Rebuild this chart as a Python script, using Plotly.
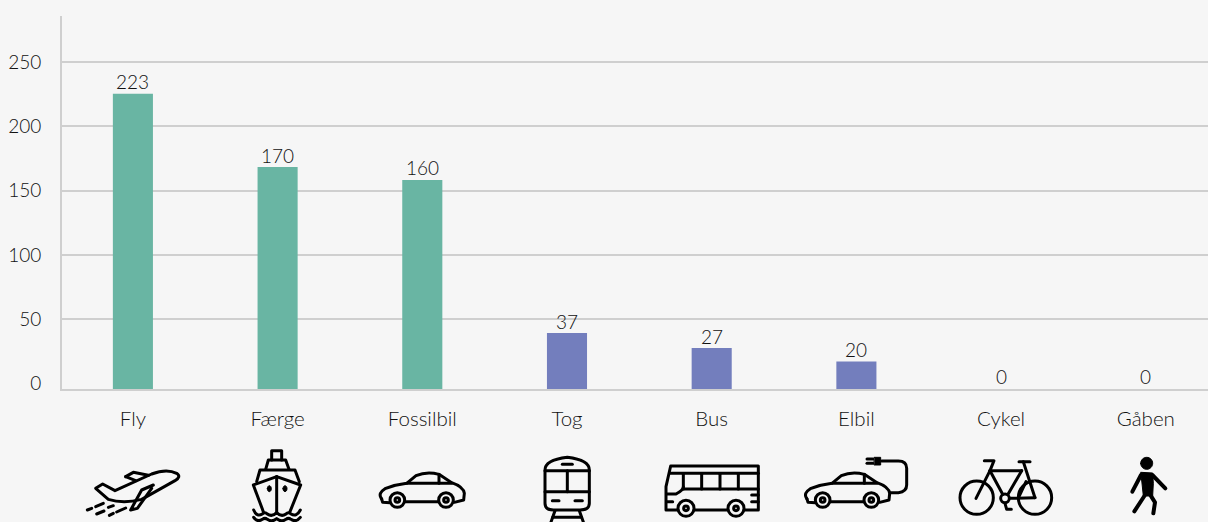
import plotly.graph_objects as go

categories = ["Fly", "Færge", "Fossilbil", "Tog", "Bus", "Elbil", "Cykel", "Gåben"]
bar_tops = [225.5, 168.5, 158.4, 39.4, 27.7, 17.2, 0, 0]
printed_labels = ["223", "170", "160", "37", "27", "20", "0", "0"]
bar_colors = ["#69B5A3", "#69B5A3", "#69B5A3", "#737EBD", "#737EBD", "#737EBD", "#737EBD", "#737EBD"]
y_ticks = [0, 50, 100, 150, 200, 250]

BG = "#F6F6F6"
GRID = "#CFCFCF"
TXT = "#111111"
FONT = "Lato"
Y_MIN, Y_MAX = -4.1, 285.9
ML, MR, MT, MB = 62, 0, 16, 133
W, H = 1208, 522


def px(path, x0, y0=440):
    """Zoom-crop icon coordinates (3x) to paper coordinates."""
    out = []
    tokens = path.replace(",", " ").split()
    is_x = True
    for t in tokens:
        if t.isalpha():
            out.append(t)
            is_x = True
        else:
            v = float(t)
            if is_x:
                out.append(f"{(x0 + v / 3 - ML) / (W - ML - MR):.5f}")
            else:
                out.append(f"{((H - MB) - (y0 + v / 3)) / (H - MT - MB):.5f}")
            is_x = not is_x
    return " ".join(out)


def circ(cx, cy, rx, ry=None):
    ry = rx if ry is None else ry
    k = 0.5523
    return (f"M {cx-rx} {cy} C {cx-rx} {cy-k*ry} {cx-k*rx} {cy-ry} {cx} {cy-ry} "
            f"C {cx+k*rx} {cy-ry} {cx+rx} {cy-k*ry} {cx+rx} {cy} "
            f"C {cx+rx} {cy+k*ry} {cx+k*rx} {cy+ry} {cx} {cy+ry} "
            f"C {cx-k*rx} {cy+ry} {cx-rx} {cy+k*ry} {cx-rx} {cy} Z")


def car(dx):
    return [
        f"M {965+dx} 177 Q {952+dx} 160 {975+dx} 146 Q {1005+dx} 134 {1040+dx} 130 L {1068+dx} 107 "
        f"Q {1100+dx} 93 {1137+dx} 103 L {1175+dx} 128 Q {1210+dx} 140 {1213+dx} 160 L {1211+dx} 180 L {1183+dx} 187",
        f"M {965+dx} 177 L {968+dx} 187 L {990+dx} 188",
        f"M {1036+dx} 185 L {1135+dx} 185",
        f"M {1040+dx} 130 L {1175+dx} 130",
        f"M {1137+dx} 103 L {1137+dx} 130",
        circ(1012 + dx, 180, 22),
        circ(1158 + dx, 180, 22),
        circ(1012 + dx, 180, 7),
        circ(1158 + dx, 180, 7),
    ]


plane = [
    "M 107 145 L 128 132 L 165 152 L 275 102 Q 320 85 350 100 Q 365 110 345 122 L 245 178 Q 190 192 145 178 Z",
    "M 197 110 L 220 97 L 265 106",
    "M 197 110 L 227 122",
    "M 280 135 L 245 150 L 212 210 L 232 205 L 275 145",
    "M 82 210 L 95 205", "M 107 200 L 130 190", "M 110 222 L 132 213", "M 145 202 L 160 197",
    "M 148 226 L 160 220", "M 170 216 L 197 204",
]
ship = [
    "M 635 60 L 635 32 L 665 32 L 665 60",
    "M 617 88 L 625 60 L 677 60 L 687 88",
    "M 590 125 L 600 90 L 705 90 L 718 125",
    "M 650 110 L 580 135 L 610 215", "M 650 110 L 722 135 L 690 215", "M 650 110 L 650 215",
    "M 581 210 Q 590 232 607 222 Q 615 214 622 222 Q 636 232 650 218 Q 664 232 678 222 Q 685 214 693 222 Q 710 232 721 210",
    "M 581 232 Q 592 248 607 238 Q 615 232 622 238 Q 636 248 650 236 Q 664 248 678 238 Q 685 232 693 238 Q 708 248 721 232",
]
ship_fill = [circ(628, 146, 6, 9), circ(675, 146, 6, 9)]
car1 = car(0)
train = [
    "M 75 90 Q 75 60 142 52 Q 208 60 208 90 L 208 190 Q 208 210 180 210 L 100 210 Q 75 210 75 190 Z",
    "M 75 92 L 208 92", "M 75 155 L 208 155", "M 142 92 L 142 155",
    "M 127 73 L 157 73", "M 97 182 L 117 182", "M 165 182 L 187 182",
    "M 105 212 L 93 246", "M 178 212 L 190 246", "M 98 232 L 184 232",
]
bus = [
    "M 473 210 L 438 210 L 438 140 L 452 78 L 715 78 L 715 210 L 675 210",
    "M 525 210 L 620 210", "M 450 100 L 715 100",
    "M 490 103 L 490 147", "M 545 103 L 545 147", "M 600 103 L 600 147", "M 655 103 L 655 147",
    "M 490 147 L 715 147", "M 440 162 L 468 162 Q 490 150 490 140",
    "M 695 165 L 715 165", "M 695 185 L 715 185", "M 440 185 L 458 185",
    circ(498, 205, 24), circ(648, 205, 24), circ(498, 205, 7), circ(648, 205, 7),
]
ecar = car(-104) + [
    "M 1110 158 L 1135 158 Q 1160 155 1160 135 L 1160 85 Q 1160 63 1135 63 L 1085 63",
    "M 1041 57 L 1058 57", "M 1041 70 L 1058 70",
]
ecar_fill = ["M 1063 52 L 1082 52 L 1082 75 L 1063 75 Z"]
bike = [
    circ(110, 173, 50), circ(285, 173, 50), circ(195, 175, 13),
    "M 133 62 L 162 62 L 150 92", "M 150 92 L 108 175", "M 150 92 L 245 92", "M 150 92 L 188 163",
    "M 245 92 L 204 163", "M 237 65 L 270 65", "M 250 65 L 285 173",
    "M 212 175 L 285 173", "M 258 125 L 236 172", "M 195 190 L 200 208 L 214 208",
]
walker = [
    "M 603 105 L 577 155", "M 637 105 L 676 145",
    "M 615 165 L 583 214", "M 628 160 L 645 187 L 640 220",
]
walker_fill = [circ(620, 70, 18), "M 603 97 L 638 99 L 640 130 L 638 168 L 610 168 L 606 130 Z"]

ICONS = [
    (60, plane, [], 3), (60, ship, ship_fill, 3), (60, car1, [], 3),
    (520, train, [], 3), (520, bus, [], 3), (520, ecar, ecar_fill, 3),
    (940, bike, [], 3), (940, walker, walker_fill, 4),
]

shapes = []
for x0, strokes, fills, lw in ICONS:
    for p in strokes:
        shapes.append(dict(type="path", xref="paper", yref="paper", path=px(p, x0),
                           line=dict(color="#000000", width=lw), layer="above"))
    for p in fills:
        shapes.append(dict(type="path", xref="paper", yref="paper", path=px(p, x0),
                           fillcolor="#000000", line=dict(color="#000000", width=1), layer="above"))

heights = [v - Y_MIN if v > 0 else 0 for v in bar_tops]

annotations = [
    dict(x=c, y=(v if v > 0 else Y_MIN), text=t, showarrow=False, yanchor="middle", xanchor="center",
         yshift=12 if v > 0 else 13, font=dict(family=FONT, size=19, color=TXT, weight=300))
    for c, v, t in zip(categories, bar_tops, printed_labels)
]

fig = go.Figure(go.Bar(
    x=categories, y=heights, base=Y_MIN, width=0.277,
    marker=dict(color=bar_colors, line=dict(width=0)), hoverinfo="skip",
))
fig.update_layout(
    width=W, height=H, margin=dict(l=ML, r=MR, t=MT, b=MB, pad=0, autoexpand=False),
    paper_bgcolor=BG, plot_bgcolor=BG, showlegend=False, shapes=shapes, annotations=annotations,
    font=dict(family=FONT, size=19, color=TXT, weight=300),
    xaxis=dict(range=[-0.49, 7.43], showgrid=False, showline=True, linecolor=GRID, linewidth=2, ticks="",
               ticklabelstandoff=10, tickfont=dict(family=FONT, size=20.5, color=TXT, weight=300), zeroline=False),
    yaxis=dict(range=[Y_MIN, Y_MAX], tickvals=y_ticks, ticktext=[str(t) for t in y_ticks],
               showgrid=True, gridcolor=GRID, gridwidth=1.5, showline=True, linecolor=GRID, linewidth=2,
               zeroline=True, zerolinecolor=BG, zerolinewidth=1, ticks="", ticklabelstandoff=15,
               tickfont=dict(family=FONT, size=19, color=TXT, weight=300)),
)
post = ("document.body.style.margin='0';document.body.style.background='%s';document.body.style.overflow='hidden';"
        "var s=document.createElement('style');s.textContent='.shapelayer path{stroke-linecap:round;stroke-linejoin:round}';"
        "document.head.appendChild(s);" % BG)
fig.write_html("out.html", post_script=post, config={"displayModeBar": False})
